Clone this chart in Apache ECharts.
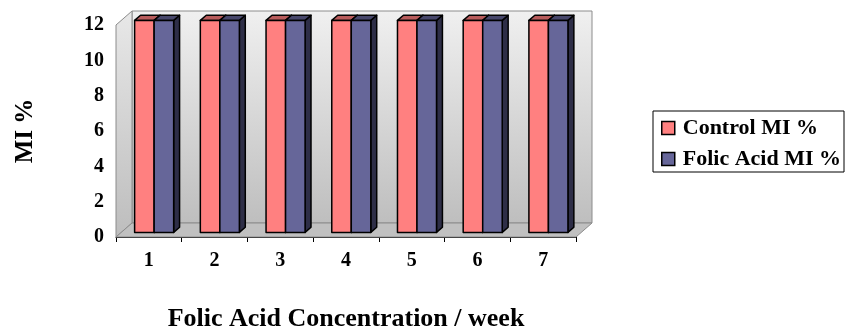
<!DOCTYPE html>
<html>
<head>
<meta charset="utf-8">
<script src="https://cdn.jsdelivr.net/npm/echarts@6/dist/echarts.min.js"></script>
<style>
html,body{margin:0;padding:0;background:#fff;}
#chart{width:848px;height:331px;}
</style>
</head>
<body>
<div id="chart"></div>
<script>
var categories = ['1', '2', '3', '4', '5', '6', '7'];
var controlMI = [12, 12, 12, 12, 12, 12, 12];
var folicMI = [12, 12, 12, 12, 12, 12, 12];
var yTicks = [0, 2, 4, 6, 8, 10, 12];
var seriesNames = ['Control MI %', 'Folic Acid MI %'];

var FONT = '"Liberation Serif", "Times New Roman", serif';
var DEPTH = [16, -14];          // back wall offset
var BAR_POS = 0.33;             // bar front at this fraction of depth
var BAR_DEPTH = 0.37;           // bar thickness as fraction of depth
var BAR_FRAC = 0.297;           // bar width as fraction of band
var faces = [
  {front: '#FF8080', top: '#B85C5C', side: '#8A4545'},
  {front: '#666699', top: '#47476B', side: '#2E2E47'}
];

function wallsRender(params, api) {
  var cs = params.coordSys;
  var x = cs.x, y = cs.y, w = cs.width, h = cs.height;
  var dx = DEPTH[0], dy = DEPTH[1];
  var grad = new echarts.graphic.LinearGradient(0, 0, 0, 1, [
    {offset: 0, color: '#F0F0F0'}, {offset: 1, color: '#BEBEBE'}
  ]);
  var gradL = new echarts.graphic.LinearGradient(0, 0, 0, 1, [
    {offset: 0, color: '#E8E8E8'}, {offset: 1, color: '#BDBDBD'}
  ]);
  return {
    type: 'group',
    children: [
      {type: 'rect', shape: {x: x + dx, y: y + dy, width: w, height: h},
       style: {fill: grad, stroke: '#8C8C8C', lineWidth: 1}},
      {type: 'polygon', shape: {points: [[x, y], [x + dx, y + dy], [x + dx, y + h + dy], [x, y + h]]},
       style: {fill: gradL, stroke: '#8C8C8C', lineWidth: 1}},
      {type: 'polygon', shape: {points: [[x, y + h], [x + dx, y + h + dy], [x + w + dx, y + h + dy], [x + w, y + h]]},
       style: {fill: '#C0C0C0', stroke: '#8C8C8C', lineWidth: 1}}
    ]
  };
}

function makeBarRender(k) {
  return function (params, api) {
    var idx = api.value(0), val = api.value(1);
    var base = api.coord([idx, 0]);
    var top = api.coord([idx, val]);
    var bw = api.size([1, 0])[0];
    var barW = bw * BAR_FRAC;
    var ox = DEPTH[0] * BAR_POS, oy = DEPTH[1] * BAR_POS;
    var ddx = DEPTH[0] * BAR_DEPTH, ddy = DEPTH[1] * BAR_DEPTH;
    var left = base[0] - barW + k * barW + ox;
    var right = left + barW;
    var ty = top[1] + oy, by = base[1] + oy;
    var f = faces[k];
    var st = {stroke: '#000', lineWidth: 1.5, lineJoin: 'round'};
    return {
      type: 'group',
      children: [
        {type: 'polygon', shape: {points: [[right, ty], [right + ddx, ty + ddy], [right + ddx, by + ddy], [right, by]]},
         style: Object.assign({fill: f.side}, st)},
        {type: 'polygon', shape: {points: [[left, ty], [left + ddx, ty + ddy], [right + ddx, ty + ddy], [right, ty]]},
         style: Object.assign({fill: f.top}, st)},
        {type: 'rect', shape: {x: left, y: ty, width: barW, height: by - ty},
         style: Object.assign({fill: f.front}, st)}
      ]
    };
  };
}

var chart = echarts.init(document.getElementById('chart'), null, {renderer: 'canvas'});
var option = {
  animation: false,
  backgroundColor: '#fff',
  textStyle: {fontFamily: FONT},
  grid: {left: 116, right: 272, top: 25, bottom: 94, containLabel: false, outerBoundsMode: 'none'},
  legend: {
    data: seriesNames,
    orient: 'vertical',
    left: 653, top: 111,
    padding: [6, 3, 2, 8],
    itemGap: 9,
    itemWidth: 13, itemHeight: 13,
    icon: 'rect',
    borderColor: '#000', borderWidth: 1,
    backgroundColor: '#fff',
    itemStyle: {borderColor: '#000', borderWidth: 1.5},
    textStyle: {fontFamily: FONT, fontWeight: 'bold', fontSize: 22, color: '#000', padding: [0, 0, 0, 3]}
  },
  xAxis: {
    type: 'category',
    data: categories,
    boundaryGap: true,
    name: 'Folic Acid Concentration / week',
    nameLocation: 'middle',
    nameGap: 69,
    nameTextStyle: {fontFamily: FONT, fontWeight: 'bold', fontSize: 26, color: '#000'},
    axisLine: {show: true, lineStyle: {color: '#000', width: 1}},
    axisTick: {show: true, length: 5, alignWithLabel: false, lineStyle: {color: '#000'}},
    axisLabel: {fontFamily: FONT, fontWeight: 'bold', fontSize: 20, color: '#000', margin: 14},
    splitLine: {show: false}
  },
  yAxis: {
    type: 'value',
    min: yTicks[0], max: yTicks[yTicks.length - 1], interval: 2,
    name: 'MI %',
    nameLocation: 'middle',
    nameRotate: 90,
    nameGap: 78,
    nameTextStyle: {fontFamily: FONT, fontWeight: 'bold', fontSize: 25, color: '#000'},
    axisLine: {show: true, lineStyle: {color: '#8C8C8C', width: 1}},
    axisTick: {show: false},
    axisLabel: {fontFamily: FONT, fontWeight: 'bold', fontSize: 20, color: '#000', margin: 12},
    splitLine: {show: false}
  },
  series: [
    {
      type: 'custom', name: '_walls', silent: true, z: 1,
      renderItem: wallsRender,
      data: [[0, 0]]
    },
    {
      type: 'custom', name: seriesNames[0], z: 3,
      itemStyle: {color: faces[0].front},
      renderItem: makeBarRender(0),
      data: controlMI.map(function (v, i) { return [i, v]; })
    },
    {
      type: 'custom', name: seriesNames[1], z: 3,
      itemStyle: {color: faces[1].front},
      renderItem: makeBarRender(1),
      data: folicMI.map(function (v, i) { return [i, v]; })
    }
  ]
};
chart.setOption(option);
</script>
</body>
</html>
